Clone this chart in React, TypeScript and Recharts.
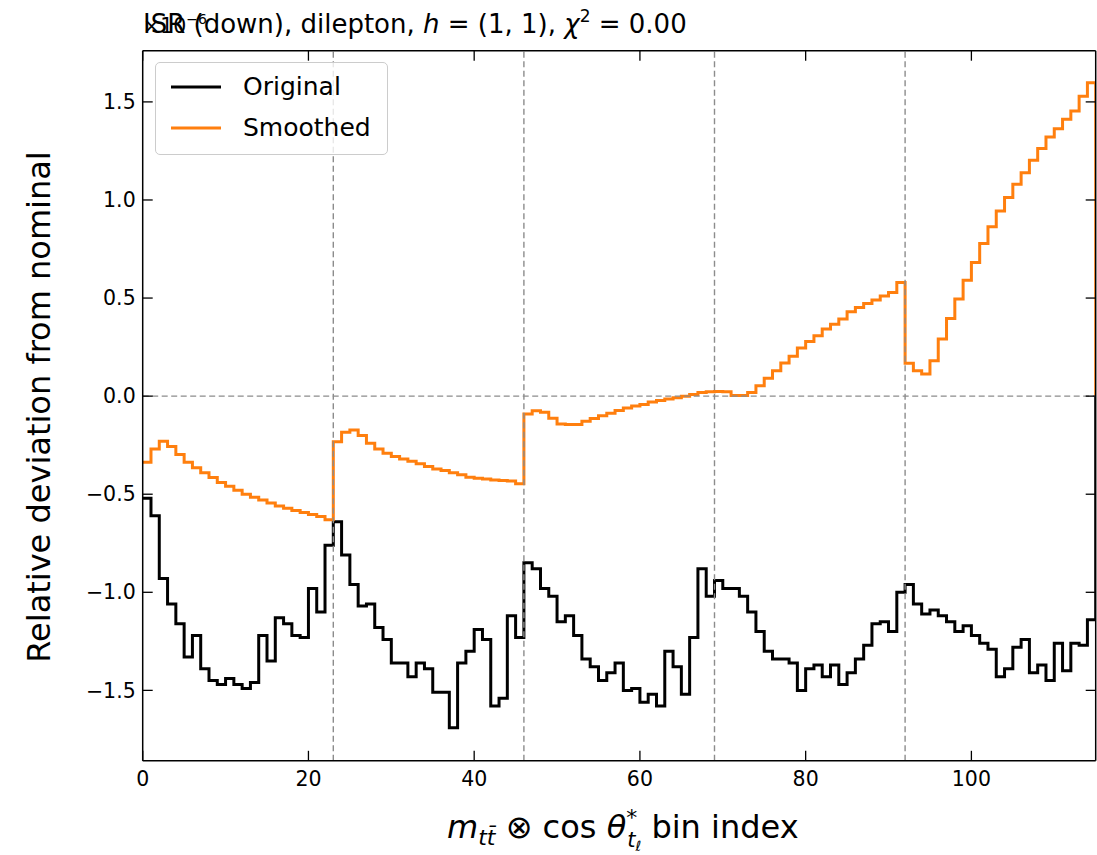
import React from "react";
import { LineChart, Line, XAxis, YAxis, ReferenceLine } from "recharts";

const FONT = "DejaVu Sans, sans-serif";
const TICK_FONT = 20.5;
const TICK_LEN = 10;

// bin index 0..114, values in units of 1e-6
const original = [
  -0.52, -0.61, -0.93, -1.06, -1.16, -1.33, -1.22, -1.39, -1.45, -1.47,
  -1.44, -1.47, -1.49, -1.46, -1.22, -1.35, -1.13, -1.16, -1.22, -1.23,
  -0.98, -1.1, -0.76, -0.64, -0.81, -0.96, -1.07, -1.06, -1.18, -1.24,
  -1.36, -1.36, -1.43, -1.36, -1.39, -1.51, -1.51, -1.69, -1.36, -1.3,
  -1.19, -1.24, -1.58, -1.54, -1.12, -1.23, -0.85, -0.88, -0.98, -1.02,
  -1.15, -1.12, -1.22, -1.34, -1.38, -1.45, -1.41, -1.36, -1.5, -1.49,
  -1.56, -1.52, -1.58, -1.3, -1.38, -1.52, -1.23, -0.88, -1.02, -0.94,
  -0.98, -0.98, -1.02, -1.1, -1.2, -1.3, -1.34, -1.34, -1.36, -1.5,
  -1.39, -1.37, -1.43, -1.37, -1.47, -1.41, -1.34, -1.27, -1.16, -1.15,
  -1.2, -1.0, -0.96, -1.06, -1.11, -1.09, -1.12, -1.15, -1.2, -1.17,
  -1.22, -1.26, -1.29, -1.43, -1.39, -1.28, -1.24, -1.41, -1.37, -1.45,
  -1.26, -1.4, -1.26, -1.27, -1.14,
];

const smoothed = [
  -0.337, -0.269, -0.23, -0.257, -0.298, -0.337, -0.365, -0.39, -0.415, -0.44,
  -0.46, -0.48, -0.5, -0.515, -0.53, -0.545, -0.56, -0.572, -0.583, -0.593,
  -0.603, -0.613, -0.63, -0.232, -0.184, -0.172, -0.201, -0.24, -0.269, -0.291,
  -0.308, -0.32, -0.332, -0.345, -0.359, -0.371, -0.379, -0.391, -0.401, -0.413,
  -0.418, -0.423, -0.427, -0.43, -0.433, -0.447, -0.091, -0.074, -0.082, -0.113,
  -0.142, -0.145, -0.145, -0.128, -0.114, -0.1, -0.087, -0.073, -0.06, -0.05,
  -0.043, -0.03, -0.022, -0.014, -0.008, 0.0, 0.008, 0.018, 0.022, 0.024,
  0.022, 0.003, 0.003, 0.019, 0.053, 0.091, 0.13, 0.169, 0.203, 0.245,
  0.279, 0.308, 0.342, 0.367, 0.393, 0.43, 0.452, 0.472, 0.49, 0.511,
  0.528, 0.579, 0.168, 0.13, 0.113, 0.181, 0.291, 0.396, 0.495, 0.591,
  0.681, 0.778, 0.864, 0.944, 1.012, 1.08, 1.139, 1.202, 1.263, 1.321,
  1.363, 1.411, 1.453, 1.529, 1.597,
];

const xTicks = [0, 20, 40, 60, 80, 100];
const yTicks = [-1.5, -1.0, -0.5, 0.0, 0.5, 1.0, 1.5];
const boundaries = [23, 46, 69, 92];
const nBins = original.length;
const yDomain = [-1.859, 1.761];

// step outline: one point per bin edge, closing back to zero at the right edge
const rows = [
  ...original.map((v, i) => ({ x: i, original: v, smoothed: smoothed[i] })),
  { x: nBins, original: 0, smoothed: 0 },
];

const fmtY = (v: number) => v.toFixed(1).replace("-", "\u2212");

function BottomTick(props: any) {
  const { x, y, payload } = props;
  return (
    <g>
      <line x1={x} y1={y} x2={x} y2={y - TICK_LEN} stroke="#000" strokeWidth={1.3} />
      <text x={x} y={y + 25} textAnchor="middle" fontSize={TICK_FONT} fontFamily={FONT} fill="#000">
        {payload.value}
      </text>
    </g>
  );
}

function TopTick(props: any) {
  const { x, y } = props;
  return <line x1={x} y1={y} x2={x} y2={y + TICK_LEN} stroke="#000" strokeWidth={1.3} />;
}

function LeftTick(props: any) {
  const { x, y, payload } = props;
  return (
    <g>
      <line x1={x} y1={y} x2={x + TICK_LEN} y2={y} stroke="#000" strokeWidth={1.3} />
      <text x={x - 7} y={y + 7.2} textAnchor="end" fontSize={TICK_FONT} fontFamily={FONT} fill="#000">
        {fmtY(payload.value)}
      </text>
    </g>
  );
}

function RightTick(props: any) {
  const { x, y } = props;
  return <line x1={x} y1={y} x2={x - TICK_LEN} y2={y} stroke="#000" strokeWidth={1.3} />;
}

function LegendBox() {
  const row = (label: string, color: string, top: number) => (
    <div style={{ position: "absolute", left: 0, top, height: 30, width: "100%" }}>
      <svg width={60} height={30} style={{ position: "absolute", left: 14, top: 0 }}>
        <line x1={1} y1={15} x2={51} y2={15} stroke={color} strokeWidth={3} />
      </svg>
      <span
        style={{
          position: "absolute",
          left: 87,
          top: 0,
          lineHeight: "30px",
          fontSize: 25,
          fontFamily: FONT,
          color: "#000",
          whiteSpace: "nowrap",
        }}
      >
        {label}
      </span>
    </div>
  );
  return (
    <div
      style={{
        position: "absolute",
        left: 155,
        top: 62,
        width: 233,
        height: 93,
        border: "1.5px solid #cccccc",
        borderRadius: 5,
        background: "rgba(255,255,255,0.8)",
        boxSizing: "border-box",
      }}
    >
      {row("Original", "#000000", 9)}
      {row("Smoothed", "#ff7f0e", 50)}
    </div>
  );
}

export default function App() {
  return (
    <div style={{ position: "absolute", left: 0, top: 0, width: 1097, height: 855, background: "#fff" }}>
      <LineChart
        width={1097}
        height={855}
        data={rows}
        margin={{ top: 49.7, right: 0.3, bottom: 0, left: 0 }}
      >
        <XAxis
          xAxisId="b"
          dataKey="x"
          type="number"
          domain={[0, nBins]}
          ticks={xTicks}
          interval={0}
          height={94.2}
          tickSize={0}
          tickMargin={0}
          tickLine={false}
          axisLine={{ stroke: "#000", strokeWidth: 1.5 }}
          tick={<BottomTick />}
          allowDataOverflow
        />
        <XAxis
          xAxisId="t"
          orientation="top"
          dataKey="x"
          type="number"
          domain={[0, nBins]}
          ticks={xTicks}
          interval={0}
          height={1}
          tickSize={0}
          tickMargin={0}
          tickLine={false}
          axisLine={{ stroke: "#000", strokeWidth: 1.5 }}
          tick={<TopTick />}
          allowDataOverflow
        />
        <YAxis
          yAxisId="l"
          type="number"
          domain={yDomain}
          ticks={yTicks}
          interval={0}
          width={142.7}
          tickSize={0}
          tickMargin={0}
          tickLine={false}
          axisLine={{ stroke: "#000", strokeWidth: 1.5 }}
          tick={<LeftTick />}
          allowDataOverflow
        />
        <YAxis
          yAxisId="r"
          orientation="right"
          type="number"
          domain={yDomain}
          ticks={yTicks}
          interval={0}
          width={1}
          tickSize={0}
          tickMargin={0}
          tickLine={false}
          axisLine={{ stroke: "#000", strokeWidth: 1.5 }}
          tick={<RightTick />}
          allowDataOverflow
        />
        <Line
          xAxisId="b"
          yAxisId="l"
          type="stepAfter"
          dataKey="original"
          stroke="#000000"
          strokeWidth={3}
          dot={false}
          isAnimationActive={false}
        />
        <Line
          xAxisId="b"
          yAxisId="l"
          type="stepAfter"
          dataKey="smoothed"
          stroke="#ff7f0e"
          strokeWidth={3}
          dot={false}
          isAnimationActive={false}
        />
        {boundaries.map((b) => (
          <ReferenceLine
            key={b}
            xAxisId="b"
            yAxisId="l"
            x={b}
            stroke="#8c8c8c"
            strokeWidth={1.4}
            strokeDasharray="6 3.5"
          />
        ))}
        <ReferenceLine
          xAxisId="b"
          yAxisId="l"
          y={0}
          stroke="#8c8c8c"
          strokeWidth={1.4}
          strokeDasharray="6 3.5"
        />
      </LineChart>

      <svg
        width={1097}
        height={855}
        style={{ position: "absolute", left: 0, top: 0, pointerEvents: "none" }}
        fontFamily={FONT}
      >
        <text x={143} y={33} fontSize={26} fill="#000">
          ISR (down), dilepton, <tspan fontStyle="italic">h</tspan> = (1, 1),{" "}
          <tspan fontStyle="italic">χ</tspan>
          <tspan fontSize={17} dy={-11}>2</tspan>
          <tspan dy={11}> = 0.00</tspan>
        </text>
        <text x={143} y={33} fontSize={TICK_FONT} fill="#000">
          ×10<tspan fontSize={14} dy={-9}>−6</tspan>
        </text>
        <text transform="translate(50,407) rotate(-90)" textAnchor="middle" fontSize={32} fill="#000">
          Relative deviation from nominal
        </text>
        <text x={447} y={838} fontSize={32} fill="#000">
          <tspan fontStyle="italic">m</tspan>
          <tspan fontSize={22} dy={7} fontStyle="italic">t{"t\u0304"}</tspan>
          <tspan dy={-7}> ⊗ cos </tspan>
          <tspan fontStyle="italic">θ</tspan>
          <tspan fontSize={22} dy={-13}>*</tspan>
          <tspan fontSize={21} dy={22} dx={-10} fontStyle="italic">t</tspan>
          <tspan fontSize={14} dy={4} fontStyle="italic">ℓ</tspan>
          <tspan dy={-13}> bin index</tspan>
        </text>
      </svg>
      <LegendBox />
    </div>
  );
}
